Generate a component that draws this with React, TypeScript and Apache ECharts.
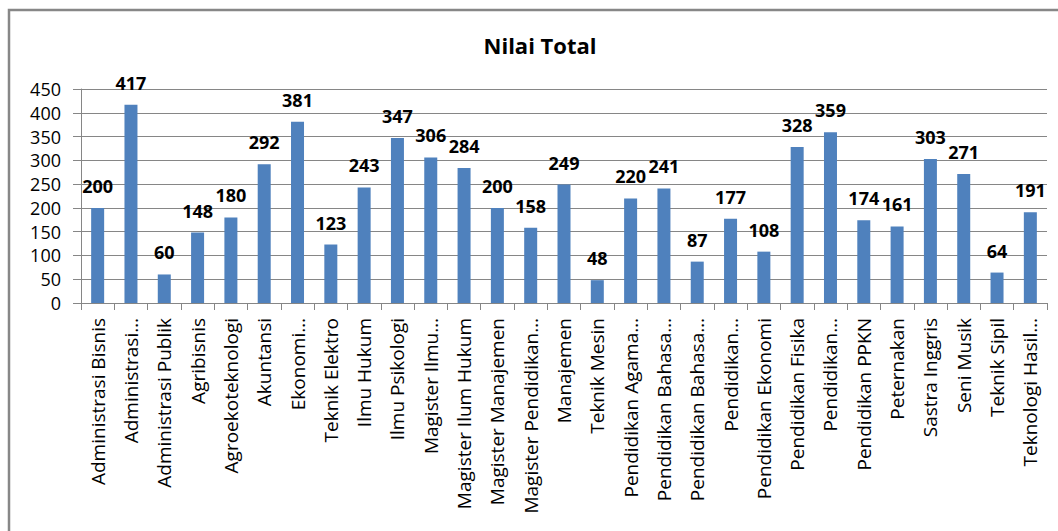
import React, { useEffect, useRef } from "react";
import * as echarts from "echarts";

const title = "Nilai Total";
const categories = [
  "Administrasi Bisnis",
  "Administrasi…",
  "Administrasi Publik",
  "Agribisnis",
  "Agroekoteknologi",
  "Akuntansi",
  "Ekonomi…",
  "Teknik Elektro",
  "Ilmu Hukum",
  "Ilmu Psikologi",
  "Magister Ilmu…",
  "Magister Ilum Hukum",
  "Magister Manajemen",
  "Magister Pendidikan…",
  "Manajemen",
  "Teknik Mesin",
  "Pendidikan Agama…",
  "Pendidikan Bahasa…",
  "Pendidikan Bahasa…",
  "Pendidikan…",
  "Pendidikan Ekonomi",
  "Pendidikan Fisika",
  "Pendidikan…",
  "Pendidikan PPKN",
  "Peternakan",
  "Sastra Inggris",
  "Seni Musik",
  "Teknik Sipil",
  "Teknologi Hasil…",
];
const values = [
  200, 417, 60, 148, 180, 292, 381, 123, 243, 347, 306, 284, 200, 158, 249, 48,
  220, 241, 87, 177, 108, 328, 359, 174, 161, 303, 271, 64, 191,
];
const yMin = 0;
const yMax = 450;
const yStep = 50;

const FONT = "'Open Sans', 'Noto Sans', sans-serif";

export default function App() {
  const ref = useRef<HTMLDivElement>(null);
  useEffect(() => {
    if (!ref.current) return;
    const chart = echarts.init(ref.current, null, { renderer: "svg" });
    chart.setOption({
      animation: false,
      backgroundColor: "#ffffff",
      textStyle: { fontFamily: FONT },
      title: {
        text: title,
        left: 535,
        top: 29,
        textAlign: "center",
        textStyle: { fontFamily: FONT, fontSize: 22, fontWeight: "bold", color: "#000" },
      },
      graphic: [
        {
          type: "polyline",
          shape: { points: [[9, 531], [9, 10], [1058, 10]] },
          style: { stroke: "#878787", lineWidth: 2.5, fill: "none" },
          silent: true,
        },
      ],
      grid: { left: 81, right: 11, top: 89, bottom: 228, containLabel: false },
      xAxis: {
        type: "category",
        data: categories,
        axisLine: { show: true, lineStyle: { color: "#868686", width: 1 } },
        axisTick: { show: true, length: 7, lineStyle: { color: "#868686" } },
        axisLabel: {
          rotate: 90,
          interval: 0,
          margin: 15,
          fontSize: 19,
          color: "#000",
          fontFamily: FONT,
        },
      },
      yAxis: {
        type: "value",
        min: yMin,
        max: yMax,
        interval: yStep,
        axisLine: { show: true, lineStyle: { color: "#868686", width: 1 } },
        axisTick: { show: true, length: 8, lineStyle: { color: "#868686" } },
        splitLine: { show: true, lineStyle: { color: "#868686", width: 1 } },
        axisLabel: { fontSize: 18, color: "#000", margin: 20, fontFamily: FONT },
      },
      series: [
        {
          type: "bar",
          data: values,
          barWidth: 13,
          itemStyle: { color: "#4F81BD" },
          label: {
            show: true,
            position: "top",
            distance: 13,
            fontSize: 18,
            fontWeight: "bold",
            color: "#000",
            fontFamily: FONT,
          },
        },
      ],
    });
    return () => chart.dispose();
  }, []);
  return (
    <div
      ref={ref}
      style={{ position: "absolute", left: 0, top: 0, width: 1058, height: 531 }}
    />
  );
}
